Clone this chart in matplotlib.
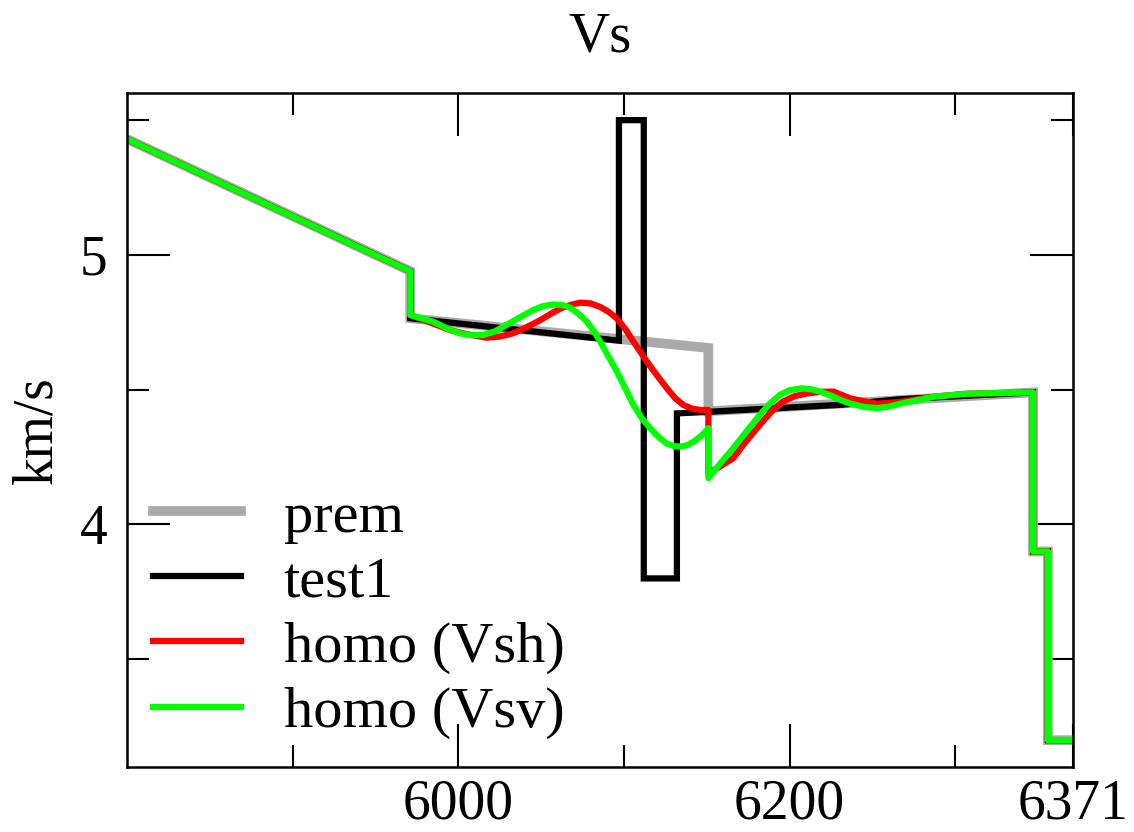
import matplotlib
matplotlib.use("Agg")
import matplotlib.pyplot as plt
from matplotlib.ticker import FixedLocator

# ---- data (radius in km, Vs in km/s) ----
prem_r = [5800, 5971, 5971, 6151, 6151, 6347, 6347, 6356, 6356, 6371]
prem_v = [5.43, 4.94, 4.765, 4.655, 4.42, 4.49, 3.90, 3.90, 3.20, 3.20]

test1_r = [5800, 5971, 5971, 6097, 6097, 6112, 6112, 6132, 6132, 6151, 6231, 6267, 6347, 6347, 6356, 6356, 6371]
test1_v = [5.43, 4.94, 4.765, 4.682, 5.50, 5.50, 3.80, 3.80, 4.412, 4.418, 4.444, 4.465, 4.49, 3.90, 3.90, 3.20, 3.20]

vsh_r = [5800, 5955, 5971, 5971, 5985, 5995, 6006, 6017, 6025, 6033, 6041, 6049.5, 6056, 6061.6,
         6068, 6073.6, 6080, 6085.7, 6091, 6095.8, 6101, 6105.8, 6110, 6113.9, 6120, 6126,
         6131, 6136, 6141, 6146, 6151, 6151, 6158, 6166, 6174, 6182, 6189, 6196, 6203,
         6210.5, 6218, 6226.6, 6237, 6253, 6267, 6287, 6307, 6347, 6347, 6356, 6356, 6371]
vsh_v = [5.43, 4.985, 4.94, 4.777, 4.745, 4.721, 4.705, 4.693, 4.697, 4.709, 4.731, 4.758, 4.782, 4.801,
         4.815, 4.823, 4.82, 4.807, 4.788, 4.764, 4.724, 4.678, 4.64, 4.604, 4.553, 4.505,
         4.468, 4.443, 4.43, 4.425, 4.425, 4.19, 4.215, 4.246, 4.31, 4.369, 4.418, 4.456, 4.476,
         4.486, 4.492, 4.493, 4.467, 4.448, 4.455, 4.474, 4.485, 4.49, 3.90, 3.90, 3.20, 3.20]

vsv_r = [5800, 5955, 5971, 5971, 5985, 5993, 6001, 6008, 6015, 6022, 6029, 6037, 6045, 6051,
         6057.5, 6063, 6067.6, 6073, 6077.7, 6082, 6085.7, 6091, 6095.8, 6101, 6105.8, 6111,
         6115.9, 6121, 6126, 6130, 6134, 6138, 6142, 6147, 6151, 6151, 6158, 6166, 6174,
         6182, 6188, 6194, 6200, 6207, 6213, 6218.6, 6225, 6230.7, 6237, 6245, 6253, 6260,
         6267, 6287, 6307, 6347, 6347, 6356, 6356, 6371]
vsv_v = [5.43, 4.985, 4.94, 4.777, 4.752, 4.728, 4.709, 4.702, 4.703, 4.716, 4.74, 4.768, 4.795, 4.81,
         4.816, 4.814, 4.804, 4.78, 4.752, 4.716, 4.678, 4.62, 4.567, 4.503, 4.443, 4.393,
         4.357, 4.324, 4.30, 4.291, 4.289, 4.294, 4.307, 4.33, 4.357, 4.172, 4.225, 4.283, 4.345,
         4.406, 4.448, 4.48, 4.498, 4.505, 4.502, 4.493, 4.478, 4.462, 4.448, 4.436, 4.432, 4.437,
         4.448, 4.474, 4.485, 4.49, 3.90, 3.90, 3.20, 3.20]

labels = ["prem", "test1", "homo (Vsh)", "homo (Vsv)"]
xticks = [6000, 6200, 6371]
xtick_labels = ["6000", "6200", "6371"]
yticks = [4, 5]

plt.rcParams['font.family'] = ['Liberation Serif', 'DejaVu Serif']

fig = plt.figure(figsize=(11.34, 8.32), dpi=100)
ax = fig.add_axes([0.112, 0.078, 0.834, 0.810])

ax.plot(prem_r, prem_v, color='#aaaaaa', lw=7.0, solid_joinstyle='miter', label=labels[0])
ax.plot(test1_r, test1_v, color='black', lw=4.5, solid_joinstyle='miter', label=labels[1])
ax.plot(vsh_r, vsh_v, color='#ff0000', lw=4.5, solid_joinstyle='round', label=labels[2])
ax.plot(vsv_r, vsv_v, color='#00ff00', lw=4.5, solid_joinstyle='round', label=labels[3])

ax.set_xlim(5800, 6371)
ax.set_ylim(3.1, 5.6)

ax.xaxis.set_major_locator(FixedLocator(xticks))
ax.set_xticklabels(xtick_labels)
ax.xaxis.set_minor_locator(FixedLocator([5900, 6100, 6300]))
ax.yaxis.set_major_locator(FixedLocator(yticks))
ax.yaxis.set_minor_locator(FixedLocator([3.5, 4.5, 5.5]))

ax.tick_params(which='both', direction='in', top=True, right=True, width=1.5, labelsize=40)
ax.tick_params(axis='x', pad=8)
ax.tick_params(axis='y', pad=14)
ax.tick_params(which='major', length=31)
ax.tick_params(which='minor', length=15.5)
for s in ax.spines.values():
    s.set_linewidth(1.8)

ax.set_title("Vs", fontsize=41, pad=30)
ax.set_ylabel("km/s", fontsize=40, labelpad=12)

leg = ax.legend(loc='upper left', bbox_to_anchor=(0.0275, 0.41), frameon=False, fontsize=42,
                handlelength=1.5, handletextpad=0.74, labelspacing=0.21,
                borderpad=0, borderaxespad=0)

fig.savefig("out.png", dpi=100)
